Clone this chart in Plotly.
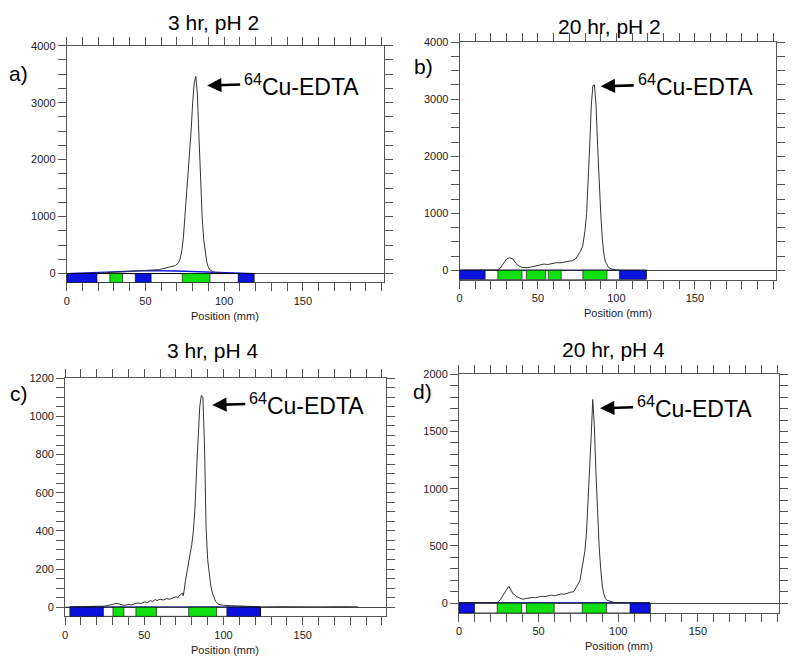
import plotly.graph_objects as go

# ---------------- data ----------------
titles = ["3 hr, pH 2", "20 hr, pH 2", "3 hr, pH 4", "20 hr, pH 4"]
panel_labels = ["a)", "b)", "c)", "d)"]
peak_label = "<sup>64</sup>Cu-EDTA"
x_title = "Position (mm)"

pos_a = [0, 5, 10, 15, 20, 24, 28, 30, 33, 36, 40, 44, 48, 50, 53, 56, 59, 61, 63, 65, 67, 69, 71,
         72, 73, 74, 75, 76, 77, 78, 79, 80, 81, 82, 83, 84, 85, 86, 87, 88, 89, 90, 91, 93, 95, 98,
         102, 110, 120]
cnt_a = [0, 0, 0, 0, 5, 10, 20, 25, 35, 30, 38, 42, 50, 55, 52, 60, 70, 85, 100, 110, 118, 140, 190,
         260, 380, 600, 980, 1350, 1700, 2000, 2500, 3000, 3350, 3460, 3150, 2400, 1600, 1000, 600,
         340, 190, 110, 65, 30, 15, 8, 3, 0, 0]

pos_b = [0, 10, 20, 24, 26, 28, 30, 32, 34, 36, 38, 40, 43, 46, 49, 52, 54, 56, 58, 60, 62, 64, 66,
         68, 70, 72, 74, 75.5, 77, 78.5, 80, 81, 82, 83, 84, 85, 86, 87, 88, 89, 90, 91, 92, 93, 94,
         95, 97, 100, 105, 120]
cnt_b = [0, 0, 0, 5, 40, 130, 200, 220, 200, 120, 70, 50, 45, 60, 75, 90, 110, 100, 115, 120, 135,
         130, 140, 150, 155, 170, 200, 260, 330, 420, 700, 1000, 1500, 2200, 2900, 3240, 3250, 2900,
         2200, 1500, 1000, 550, 280, 150, 90, 50, 20, 5, 0, 0]

pos_c = [0, 5, 10, 15, 20, 25, 28, 30, 32, 34, 36, 38, 40, 42, 44, 46, 48, 50, 52, 54, 55, 57, 58,
         60, 62, 64, 66, 68, 70, 71, 72, 73, 74, 74.5, 75, 76, 77, 78, 79, 80, 81, 82, 83, 84, 85, 86,
         87, 88, 89, 90, 91, 92, 93, 94, 95, 97, 100, 105, 110, 115, 120, 125, 135, 143, 153, 161,
         175, 185]
cnt_c = [0, 2, 3, 4, 5, 6, 10, 15, 20, 18, 12, 10, 15, 12, 18, 22, 20, 28, 25, 35, 30, 40, 35, 42,
         38, 45, 42, 50, 55, 48, 60, 65, 75, 60, 80, 140, 190, 230, 270, 330, 400, 520, 720, 900,
         1050, 1110, 1100, 850, 420, 250, 160, 110, 75, 50, 30, 15, 10, 8, 6, 5, 3, 2, 3, 2, 3, 2,
         3, 2]

pos_d = [0, 10, 20, 24, 26, 28, 30, 31.3, 33, 34, 35, 36, 38, 40, 42, 44, 46, 48, 50, 52, 54, 56,
         58, 60, 62, 64, 66, 68, 70, 72, 73, 74, 75, 76, 77, 78, 79, 80, 81, 82, 83, 84, 85, 86, 87,
         88, 89, 90, 91, 92, 93, 95, 97, 100, 105, 120]
cnt_d = [0, 0, 0, 5, 30, 70, 120, 148, 110, 80, 75, 60, 45, 35, 40, 45, 50, 48, 55, 60, 58, 65, 70,
         65, 75, 80, 78, 90, 95, 100, 120, 150, 170, 200, 280, 380, 450, 600, 850, 1150, 1450, 1780,
         1550, 1150, 800, 500, 300, 150, 80, 40, 25, 15, 8, 3, 0, 0]

# blue reference line along the baseline
blue_pos_a = [0, 10, 30, 50, 70, 90, 110, 119]
blue_cnt_a = [0, 8, 35, 50, 45, 28, 5, 0]
blue_pos_b = [0, 102]
blue_cnt_b = [0, 0]
blue_pos_c = [3, 123]
blue_cnt_c = [0, 0]
blue_pos_d = [0, 120]
blue_cnt_d = [0, 0]

# strip (plate) extent and coloured zones in mm
strip_a = [0, 119]
blue_zones_a = [[0, 19.2], [43.5, 53.6], [108.9, 118.6]]
green_zones_a = [[27.4, 35.4], [73.4, 91]]
strip_b = [0, 119]
blue_zones_b = [[0, 16.3], [101.9, 118.8]]
green_zones_b = [[24.4, 39.8], [42.6, 54.9], [56.6, 64.8], [78.6, 94]]
strip_c = [3.2, 123.3]
blue_zones_c = [[3.2, 24.2], [102.1, 123.3]]
green_zones_c = [[30.2, 37.1], [44.7, 57.7], [78, 95.6]]
strip_d = [0, 120]
blue_zones_d = [[0, 9.8], [107.4, 119.9]]
green_zones_d = [[24, 39.4], [42.3, 59.8], [77.4, 92.6]]

# arrow tip (x mm, y counts) for the peak label
arrow_a = [89.2, 3300]
arrow_b = [90, 3226]
arrow_c = [92.9, 1060]
arrow_d = [88.6, 1703]

y_major = [1000, 1000, 200, 500]
y_minor = [250, 250, 50, 100]

# ---------------- layout geometry (page px in 800x666) ----------------
PAGE_W, PAGE_H = 800, 666
OFF = 8  # default body margin of the page
W, H = PAGE_W - 2 * OFF, PAGE_H - 2 * OFF


def fx(X):
    return (X - OFF) / W


def fy(Y):
    return 1 - (Y - OFF) / H


frames = [  # left, right, top, bottom in page px
    (64, 382, 40, 279),
    (458.3, 776, 36.5, 276),
    (62.3, 384, 375.7, 616),
    (457.7, 779, 371.7, 612.7),
]
x_ranges = [[0, 201.3], [0, 201.8], [0, 202.3], [0, 201]]
y_ranges = [[-157, 4000], [-162, 4000], [-48, 1200], [-87, 2000]]
# title anchor (x centre, y, yanchor)
title_pos = [(211, 17, "middle"), (609, 8, "top"), (210, 348, "middle"), (613, 347, "middle")]
label_pos = [(16, 68), (422, 61), (16, 391), (421, 389)]
xtitle_y = [313, 310, 650, 646]

FONT = "Arial, Liberation Sans, sans-serif"
BLUE = "#0b12e0"
GREEN = "#10e010"
FRAME = "#555555"

panels = [
    (pos_a, cnt_a, blue_pos_a, blue_cnt_a, strip_a, blue_zones_a, green_zones_a, arrow_a),
    (pos_b, cnt_b, blue_pos_b, blue_cnt_b, strip_b, blue_zones_b, green_zones_b, arrow_b),
    (pos_c, cnt_c, blue_pos_c, blue_cnt_c, strip_c, blue_zones_c, green_zones_c, arrow_c),
    (pos_d, cnt_d, blue_pos_d, blue_cnt_d, strip_d, blue_zones_d, green_zones_d, arrow_d),
]

fig = go.Figure()
shapes = []
annotations = []
layout = {}

for i, (px, py, bx, by, strip, bz, gz, arr) in enumerate(panels):
    n = "" if i == 0 else str(i + 1)
    xa, ya = "x" + n, "y" + n
    l, r, t, b = frames[i]
    ybot = y_ranges[i][0]

    # strip: white base then coloured zones
    shapes.append(dict(type="rect", xref=xa, yref=ya, x0=strip[0], x1=strip[1], y0=ybot, y1=0,
                       fillcolor="white", line=dict(color="black", width=1), layer="above"))
    for z in bz:
        shapes.append(dict(type="rect", xref=xa, yref=ya, x0=z[0], x1=z[1], y0=ybot, y1=0,
                           fillcolor=BLUE, line=dict(color="black", width=0.6), layer="above"))
    for z in gz:
        shapes.append(dict(type="rect", xref=xa, yref=ya, x0=z[0], x1=z[1], y0=ybot, y1=0,
                           fillcolor=GREEN, line=dict(color="black", width=0.6), layer="above"))

    fig.add_trace(go.Scatter(x=bx, y=by, xaxis=xa, yaxis=ya, mode="lines",
                             line=dict(color=BLUE, width=2 if i == 3 else 1.3),
                             showlegend=False, hoverinfo="skip"))
    fig.add_trace(go.Scatter(x=px, y=py, xaxis=xa, yaxis=ya, mode="lines",
                             line=dict(color="#333333", width=1),
                             showlegend=False))

    common = dict(showline=True, linecolor=FRAME, linewidth=1, mirror="ticks",
                  ticks="outside", ticklen=8, tickcolor=FRAME, tickwidth=1,
                  showgrid=False, tickfont=dict(family=FONT, size=11, color="#222222"))
    layout["xaxis" + n] = dict(domain=[fx(l), fx(r)], range=x_ranges[i], anchor=ya,
                               tickmode="array", tickvals=[0, 50, 100, 150],
                               minor=dict(dtick=10, tick0=0, ticks="outside", ticklen=8,
                                          tickcolor=FRAME, showgrid=False),
                               zeroline=False, **common)
    layout["yaxis" + n] = dict(domain=[fy(b), fy(t)], range=y_ranges[i], anchor=xa,
                               tick0=0, dtick=y_major[i],
                               minor=dict(dtick=y_minor[i], ticks="outside", ticklen=8,
                                          tickcolor=FRAME, showgrid=False),
                               zeroline=True, zerolinecolor="#444444", zerolinewidth=1,
                               **common)

    tx, ty, tanchor = title_pos[i]
    annotations.append(dict(text=titles[i], x=fx(tx), y=fy(ty), xref="paper", yref="paper",
                            showarrow=False, xanchor="center", yanchor=tanchor, borderpad=0,
                            font=dict(family=FONT, size=21, color="black")))
    lx, ly = label_pos[i]
    annotations.append(dict(text=panel_labels[i], x=fx(lx), y=fy(ly), xref="paper",
                            yref="paper", showarrow=False, xanchor="center", yanchor="middle",
                            font=dict(family=FONT, size=21, color="black")))
    annotations.append(dict(text=x_title, x=fx((l + r) / 2), y=fy(xtitle_y[i]),
                            xref="paper", yref="paper", showarrow=False, xanchor="center",
                            yanchor="middle", font=dict(family=FONT, size=11, color="#222222")))

    # peak label with arrow pointing to the peak
    annotations.append(dict(text=peak_label, x=arr[0], y=arr[1], xref=xa, yref=ya,
                            showarrow=True, ax=33, ay=-1, xanchor="left", yanchor="middle",
                            borderpad=3, arrowhead=2, arrowsize=1.1, arrowwidth=2.6,
                            arrowcolor="black",
                            font=dict(family=FONT, size=23, color="black")))

fig.update_layout(width=W, height=H, margin=dict(l=0, r=0, t=0, b=0),
                  paper_bgcolor="white", plot_bgcolor="white",
                  shapes=shapes, annotations=annotations, **layout)

fig.write_html("out.html")
